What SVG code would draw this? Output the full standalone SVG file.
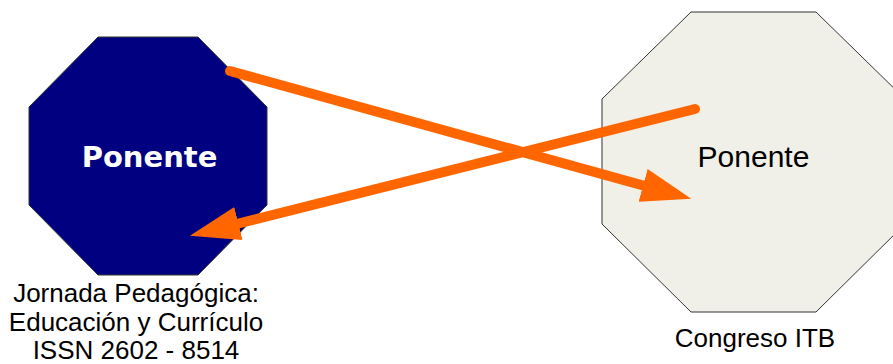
<svg xmlns="http://www.w3.org/2000/svg" width="893" height="364" viewBox="0 0 893 364">
<style>
.lbl{font-family:"Liberation Sans",Arial,sans-serif;font-size:26px;fill:#000;text-anchor:middle}
.conn{fill:none;stroke:#FF6600;stroke-width:10;stroke-linecap:round}
</style>
<defs>
<marker id="ah" markerUnits="userSpaceOnUse" viewBox="0 0 50 34" markerWidth="50" markerHeight="34" refX="2" refY="17" orient="auto">
<path d="M0,0 L50,17 L0,34 Z" fill="#FF6600"/>
</marker>
</defs>
<rect width="893" height="364" fill="#fff"/>
<g id="node-left">
<polygon points="98,37 198,37 267,107 267,205 198,275 98,275 29,205 29,107" fill="#000080" stroke="#333" stroke-width="1"/>
<text x="149.5" y="167" font-family="'DejaVu Sans',Verdana,sans-serif" font-weight="bold" font-size="29" fill="#fff" text-anchor="middle">Ponente</text>
</g>
<g id="node-right">
<polygon points="691,12 816,12 905,99 905,224 816,312 691,312 602,224 602,99" fill="#F0F0E8" stroke="#333" stroke-width="1"/>
<text x="753.5" y="167" font-family="'Liberation Sans',Arial,sans-serif" font-size="30" fill="#000" text-anchor="middle">Ponente</text>
</g>
<g id="label-left">
<text class="lbl" x="136" y="302">Jornada Pedagógica:</text>
<text class="lbl" x="136" y="331">Educación y Currículo</text>
<text class="lbl" x="136" y="359">ISSN 2602 - 8514</text>
</g>
<g id="label-right">
<text class="lbl" x="755" y="347">Congreso ITB</text>
</g>
<g id="connectors">
<path class="conn" d="M230,71 L645,186" marker-end="url(#ah)"/>
<path class="conn" d="M695,109 L236.5,224" marker-end="url(#ah)"/>
</g>
</svg>
